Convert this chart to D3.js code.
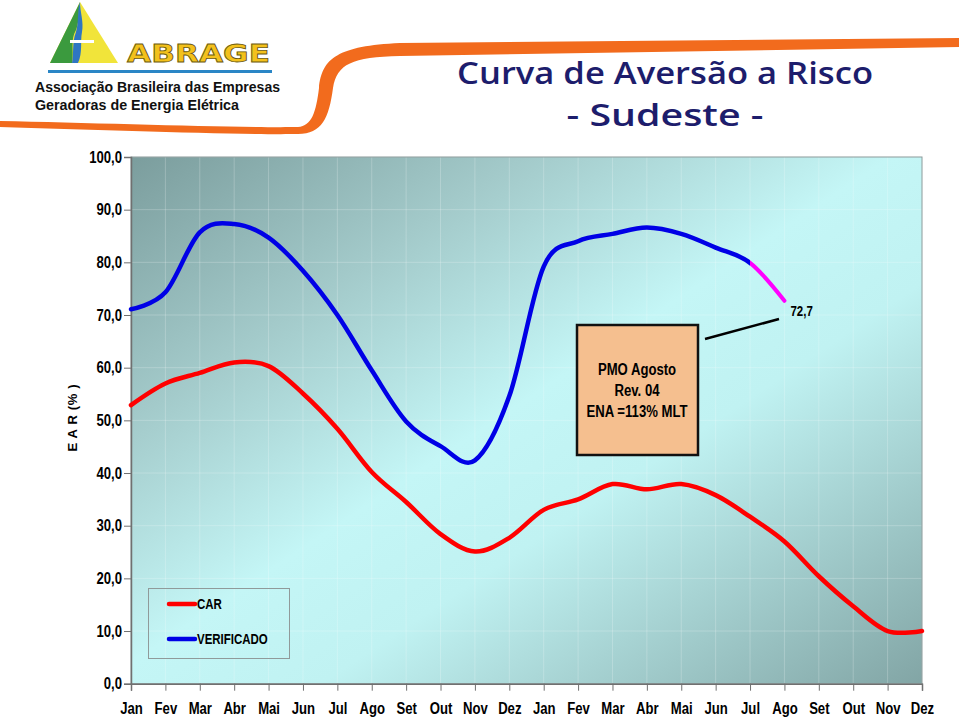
<!DOCTYPE html>
<html><head><meta charset="utf-8">
<script src="https://cdn.jsdelivr.net/npm/d3@7"></script>
<style>body{margin:0;background:#fff}svg{display:block}</style>
</head><body>
<svg id="chart" width="959" height="718"></svg>
<script>
// ---------- DATA ----------
const monthNames = ["Jan","Fev","Mar","Abr","Mai","Jun","Jul","Ago","Set","Out","Nov","Dez"];
const months = monthNames.concat(monthNames);
const carValues = [52.9,57.0,59.0,61.0,60.3,55.1,48.4,40.2,34.5,28.4,25.1,27.7,
                   33.0,35.0,37.9,36.9,37.9,35.8,31.7,27.0,20.4,14.7,10.0,10.0];
const verificadoValues = [71.1,74.3,85.7,87.3,84.7,78.4,70.0,59.5,49.8,45.1,42.4,54.6,
                          79.2,84.0,85.4,86.6,85.4,82.8,79.9];
const previsaoValues = [72.7];           // Ago (2nd year), shown in magenta
const previsaoLabel = "72,7";
const yTicks = d3.range(0, 101, 10);
const annotationLines = ["PMO Agosto","Rev. 04","ENA =113% MLT"];
const legendItems = [{name:"CAR", color:"#ff0000"},{name:"VERIFICADO", color:"#0000e6"}];
const titleLines = ["Curva de Aversão a Risco","- Sudeste -"];
const logoLines = ["Associação Brasileira das Empresas","Geradoras de Energia Elétrica"];

// ---------- SETUP ----------
const svg = d3.select("#chart");
const sans = "'Liberation Sans',Arial,sans-serif";
const K = 0.82; // horizontal condensing to mimic Arial Narrow
function condense(sel){
  sel.each(function(){
    const t = d3.select(this);
    const x0 = +(t.attr("x") || 0);
    t.attr("x", x0 / K).attr("transform", `scale(${K},1)`);
  });
}
const L = 131, R = 922, T = 157, B = 683.7;
const x = d3.scalePoint().domain(d3.range(months.length)).range([L, R]);
const y = d3.scaleLinear().domain([0, 100]).range([B, T]);
const ptBR = d3.formatLocale({decimal:",", thousands:".", grouping:[3], currency:["R$",""]});
const fmt = ptBR.format(".1f");

const defs = svg.append("defs");
const grad = defs.append("linearGradient").attr("id","bg")
  .attr("x1","0").attr("y1","0").attr("x2","1").attr("y2","1");
grad.append("stop").attr("offset","0").attr("stop-color","#7b9d9d");
grad.append("stop").attr("offset","0.25").attr("stop-color","#a3caca");
grad.append("stop").attr("offset","0.48").attr("stop-color","#c4f6f6");
grad.append("stop").attr("offset","0.62").attr("stop-color","#c0f2f2");
grad.append("stop").attr("offset","1").attr("stop-color","#82a5a5");

// ---------- HEADER ----------
svg.append("path")
  .attr("d","M0,121 C100,123 240,128 298,127 C312,126 316,112 319,88 C322,58 338,46 400,43 L959,38 L959,47 L400,56 C352,57 337,64 333,88 C329,118 322,134 298,134 C240,135 100,130 0,127 Z")
  .attr("fill","#f26b1d");

const logo = svg.append("g");
logo.append("path").attr("d","M80,2 L50,63 L118,63 Z").attr("fill","#f1e43a");
logo.append("path").attr("d","M80,2 L50,63 L72,63 C74,50 70,40 76,30 C80,20 78,10 80,2 Z").attr("fill","#3b9a3e");
logo.append("path").attr("d","M80,2 C80,12 84,22 82,32 C80,42 83,52 78,63 L72,63 C74,52 72,42 76,32 C79,22 77,12 80,2 Z").attr("fill","#2f76c2");
logo.append("rect").attr("x",70).attr("y",40).attr("width",24).attr("height",3).attr("fill","#ffffff");
logo.append("text").attr("x",127).attr("y",62).attr("textLength",143).attr("lengthAdjust","spacingAndGlyphs")
  .attr("font-family","'DejaVu Sans',sans-serif").attr("font-weight","bold").attr("font-size",25)
  .attr("fill","#f3c11c").attr("stroke","#6b5a10").attr("stroke-width",0.8).text("ABRAGE");
logo.append("rect").attr("x",48).attr("y",70).attr("width",224).attr("height",3).attr("fill","#2a86c6");
logo.selectAll("text.sub").data(logoLines).join("text").attr("class","sub")
  .attr("x",35).attr("y",(d,i)=>92+i*18)
  .attr("textLength",(d,i)=>[245,204][i]).attr("lengthAdjust","spacingAndGlyphs")
  .attr("font-family",sans).attr("font-weight","bold").attr("font-size",15)
  .attr("fill","#111").text(d=>d);

svg.selectAll("text.title").data(titleLines).join("text").attr("class","title")
  .attr("x",665).attr("y",(d,i)=>[84,126][i])
  .attr("text-anchor","middle")
  .attr("textLength",(d,i)=>[416,197][i]).attr("lengthAdjust","spacingAndGlyphs")
  .attr("font-family","'Open Sans',sans-serif").attr("font-weight","600").attr("font-size",30)
  .attr("fill","#1d1d6c").text(d=>d);

// ---------- PLOT ----------
svg.append("rect").attr("x",L).attr("y",T).attr("width",R-L).attr("height",B-T).attr("fill","url(#bg)");

svg.append("g").selectAll("line").data(d3.range(months.length)).join("line")
  .attr("x1",d=>x(d)).attr("x2",d=>x(d)).attr("y1",T).attr("y2",B)
  .attr("stroke","#ffffff").attr("stroke-opacity",0.22);
svg.append("g").selectAll("line").data(yTicks).join("line")
  .attr("x1",L).attr("x2",R).attr("y1",d=>y(d)).attr("y2",d=>y(d))
  .attr("stroke","#ffffff").attr("stroke-opacity",0.22);

svg.append("rect").attr("x",L).attr("y",T).attr("width",R-L).attr("height",B-T)
  .attr("fill","none").attr("stroke","#8a9a9a").attr("stroke-width",1);

const yAxis = svg.append("g").attr("transform",`translate(${L},0)`)
  .call(d3.axisLeft(y).tickValues(yTicks).tickFormat(fmt).tickSize(7).tickPadding(2));
const xAxis = svg.append("g").attr("transform",`translate(0,${B})`)
  .call(d3.axisBottom(x).tickFormat(i=>months[i]).tickSize(7).tickPadding(12));
[yAxis,xAxis].forEach(a=>{
  a.select(".domain").attr("stroke","#707070").attr("stroke-width",1.5);
  a.selectAll(".tick line").attr("stroke","#707070");
  a.selectAll("text").attr("font-family",sans).attr("font-weight","bold").attr("font-size",16).attr("fill","#000");
  condense(a.selectAll("text"));
});

svg.append("text").attr("transform","translate(77,418) rotate(-90)")
  .attr("text-anchor","middle").attr("font-family",sans).attr("font-weight","bold").attr("font-size",13)
  .attr("textLength",67).attr("lengthAdjust","spacing").text("E A R  (% )");

// lines
const line = d3.line().x((d,i)=>x(i)).y(d=>y(d)).curve(d3.curveCardinal.tension(0));
const verFull = verificadoValues.concat(previsaoValues);
const splitX = x(verificadoValues.length-1);
defs.append("clipPath").attr("id","clipBlue").append("rect")
  .attr("x",0).attr("y",0).attr("width",splitX).attr("height",718);
defs.append("clipPath").attr("id","clipMag").append("rect")
  .attr("x",splitX).attr("y",0).attr("width",959-splitX).attr("height",718);

svg.append("path").datum(carValues).attr("d",line)
  .attr("fill","none").attr("stroke","#ff0000").attr("stroke-width",4.5).attr("stroke-linecap","round");
svg.append("path").datum(verFull).attr("d",line).attr("clip-path","url(#clipBlue)")
  .attr("fill","none").attr("stroke","#0000e6").attr("stroke-width",4.5).attr("stroke-linecap","round");
svg.append("path").datum(verFull).attr("d",line).attr("clip-path","url(#clipMag)")
  .attr("fill","none").attr("stroke","#ff00ff").attr("stroke-width",4).attr("stroke-linecap","round");

const lastI = verFull.length-1;
condense(svg.append("text").attr("x",x(lastI)+6).attr("y",y(verFull[lastI])+15)
  .attr("font-family",sans).attr("font-weight","bold").attr("font-size",14).text(previsaoLabel));

// annotation
svg.append("line").attr("x1",705).attr("y1",339).attr("x2",779).attr("y2",319)
  .attr("stroke","#000").attr("stroke-width",2.5);
svg.append("rect").attr("x",577).attr("y",325).attr("width",121).attr("height",130)
  .attr("fill","#f5bf8f").attr("stroke","#111").attr("stroke-width",2.5);
condense(svg.selectAll("text.ann").data(annotationLines).join("text").attr("class","ann")
  .attr("x",637).attr("y",(d,i)=>375+i*21).attr("text-anchor","middle")
  .attr("font-family",sans).attr("font-weight","bold").attr("font-size",16).text(d=>d));

// legend
const lg = svg.append("g");
lg.append("rect").attr("x",148.5).attr("y",588.5).attr("width",141).attr("height",70)
  .attr("fill","none").attr("stroke","#909a9a").attr("stroke-width",1);
const li = lg.selectAll("g").data(legendItems).join("g")
  .attr("transform",(d,i)=>`translate(0,${604+i*35})`);
li.append("line").attr("x1",169).attr("x2",195).attr("stroke",d=>d.color).attr("stroke-width",4.5).attr("stroke-linecap","round");
condense(li.append("text").attr("x",197).attr("y",5).attr("font-family",sans).attr("font-weight","bold").attr("font-size",14).text(d=>d.name));
</script>
</body></html>
